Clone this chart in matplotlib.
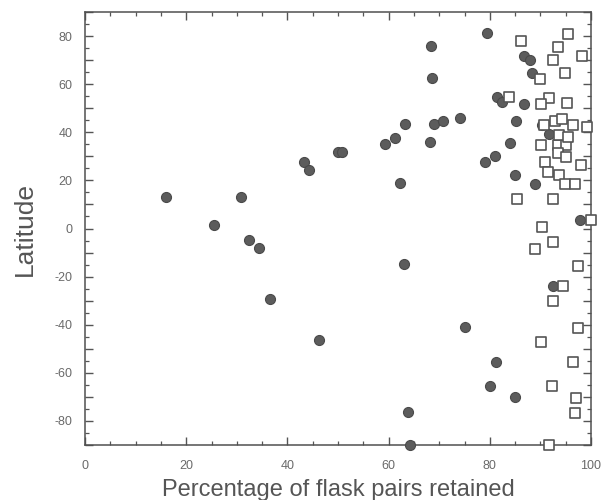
import matplotlib
matplotlib.use("Agg")
import matplotlib.pyplot as plt
from matplotlib.ticker import MultipleLocator, FuncFormatter

plt.rcParams['font.family'] = ['Liberation Sans', 'DejaVu Sans']

# Stations where flask pairs were retained, split into two groups
filled_x = [16.1, 25.5, 30.9, 32.5, 34.3, 43.3, 44.2, 50.0, 50.8, 59.2,
            61.2, 63.2, 62.3, 63.0, 68.3, 68.6, 68.1, 69.0, 70.8, 74.1,
            79.5, 86.7, 87.9, 88.4, 81.4, 82.5, 86.7, 85.1, 84.0, 91.6,
            81.0, 79.0, 85.0, 88.9, 97.9, 36.5, 46.2, 75.0, 81.2, 80.1,
            85.0, 63.9, 64.2, 92.5, 90.3]
filled_y = [13.1, 1.4, 12.9, -4.9, -8.1, 27.7, 24.3, 31.7, 31.7, 35.3,
            37.8, 43.5, 18.9, -14.7, 75.7, 62.5, 36.1, 43.4, 44.7, 45.9,
            81.2, 71.8, 70.1, 64.8, 54.6, 52.4, 51.7, 44.8, 35.4, 39.1,
            30.3, 27.6, 22.2, 18.4, 3.4, -29.4, -46.4, -41.0, -55.3, -65.3,
            -70.2, -76.1, -90.0, -24.0, 42.9]

open_x = [86.1, 95.4, 93.4, 92.4, 98.2, 94.8, 90.0, 83.7, 91.6, 90.2,
          95.2, 90.7, 92.9, 94.2, 96.5, 99.2, 90.2, 93.4, 95.0, 93.5,
          95.0, 98.1, 91.0, 91.5, 93.7, 94.8, 96.8, 85.4, 92.5, 100.0,
          90.4, 92.5, 88.9, 97.4, 94.4, 92.5, 97.5, 90.2, 96.5, 92.2,
          97.0, 96.8, 91.7, 93.6, 95.4]
open_y = [78.0, 81.0, 75.5, 70.1, 71.6, 64.7, 62.0, 54.5, 54.4, 51.6,
          52.2, 43.0, 44.7, 45.6, 43.2, 42.2, 34.7, 34.8, 34.7, 31.2,
          29.8, 26.5, 27.7, 23.6, 22.1, 18.3, 18.3, 12.2, 12.1, 3.5,
          0.5, -5.6, -8.5, -15.4, -24.1, -30.2, -41.3, -47.0, -55.5, -65.5,
          -70.4, -76.6, -90.0, 38.9, 38.1]

fig = plt.figure(figsize=(6.05, 5.0), dpi=100)
ax = fig.add_axes([0.1405, 0.11, 0.8364, 0.866])

ax.scatter(filled_x, filled_y, s=52, marker='o', facecolor='#5c5c5c',
           edgecolor='#4a4a4a', linewidth=0.8, clip_on=False, zorder=3)
ax.scatter(open_x, open_y, s=46, marker='s', facecolor='white',
           edgecolor='#555555', linewidth=1.2, clip_on=False, zorder=4)

ax.set_xlim(0, 100)
ax.set_ylim(-90, 90)

ax.xaxis.set_major_locator(MultipleLocator(20))
ax.xaxis.set_minor_locator(MultipleLocator(5))
ax.yaxis.set_major_locator(MultipleLocator(10))
ax.yaxis.set_minor_locator(MultipleLocator(5))
ax.yaxis.set_major_formatter(
    FuncFormatter(lambda v, p: f"{int(round(v))}" if round(v) % 20 == 0 else ""))

ax.tick_params(which='both', direction='in', top=True, right=True,
               colors='#555555', labelcolor='#6a6a6a', labelsize=9)
ax.tick_params(which='major', length=6, width=1.0)
ax.tick_params(which='minor', length=3, width=0.9)
ax.tick_params(axis='x', which='major', pad=11)
ax.tick_params(axis='y', which='major', pad=9)

for sp in ax.spines.values():
    sp.set_color('#505050')
    sp.set_linewidth(1.1)

ax.set_xlabel("Percentage of flask pairs retained", fontsize=17,
              color='#555555', labelpad=5)
ax.set_ylabel("Latitude", fontsize=19, color='#555555', labelpad=13)

fig.savefig("out.png", dpi=100)
